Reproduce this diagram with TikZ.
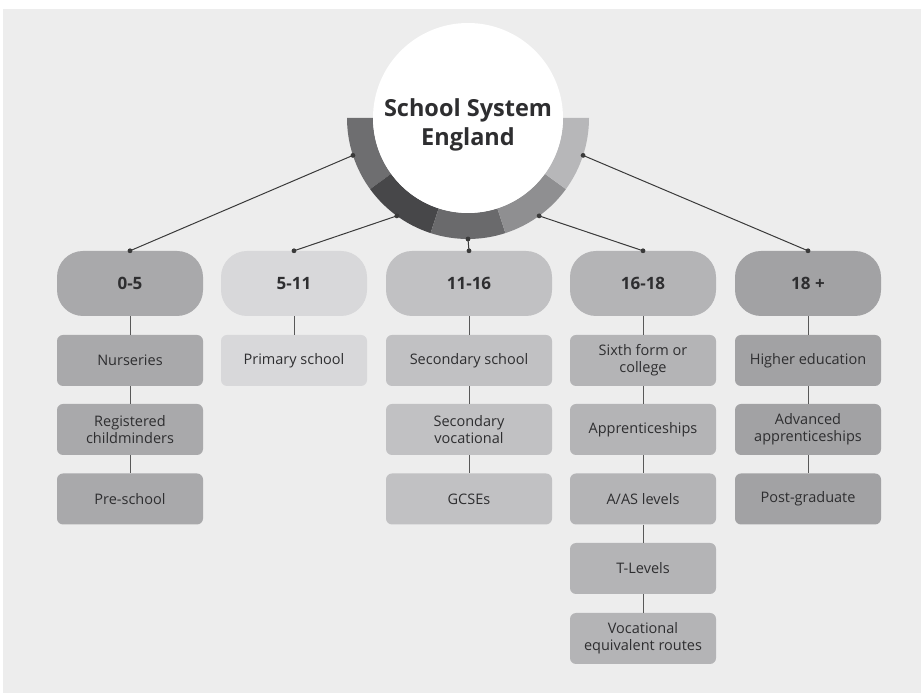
\documentclass[tikz,border=0pt]{standalone}
\usepackage{fontspec}
\setmainfont{Open Sans}
\usetikzlibrary{positioning}
\definecolor{bgc}{HTML}{EDEDED}
\definecolor{segA}{HTML}{6E6E70}
\definecolor{segB}{HTML}{474749}
\definecolor{segC}{HTML}{6A6A6C}
\definecolor{segD}{HTML}{8F8F91}
\definecolor{segE}{HTML}{B7B7B9}
\definecolor{colA}{HTML}{A9A9AB}
\definecolor{colB}{HTML}{D8D8DA}
\definecolor{colC}{HTML}{C1C1C3}
\definecolor{colD}{HTML}{B4B4B6}
\definecolor{colE}{HTML}{A2A2A4}
\definecolor{txt}{HTML}{2E2E30}
\definecolor{lnc}{HTML}{3A3A3A}
\begin{document}
\begin{tikzpicture}[x=1pt,y=1pt,
  header/.style={rounded corners=26pt, minimum width=146pt, minimum height=65pt, inner sep=0pt,
    text=txt, font=\fontsize{17}{20}\selectfont\bfseries},
  item/.style={rounded corners=6pt, minimum width=146pt, minimum height=51pt, inner sep=0pt,
    text=txt, align=center, font=\fontsize{14.5}{17}\selectfont},
  conn/.style={draw=lnc, line width=1pt},
  vline/.style={draw=lnc!85, line width=0.9pt},
  dotc/.style={fill=lnc}
]
\useasboundingbox (0,0) rectangle (921,693);
\fill[white] (0,0) rectangle (921,693);
\fill[bgc] (3,0) rectangle (921,684);

\coordinate (cc) at (468,575);
% ring segments
\foreach \a/\b/\c in {180/216/segA,216/252/segB,252/288/segC,288/324/segD,324/360/segE}{
  \fill[\c] ([shift={(\a:121)}]cc) arc[start angle=\a, end angle=\b, radius=121]
    -- ([shift={(\b:95)}]cc) arc[start angle=\b, end angle=\a, radius=95] -- cycle;
}
\node[circle, fill=white, minimum size=190pt, inner sep=0pt] (hub) at (cc) {};
\node[text=txt, align=center, font=\fontsize{23.5}{29}\selectfont\bfseries] (title) at (468,568) {School System\\England};

% ring anchor points
\coordinate (r1) at ([shift={(198:121)}]cc);
\coordinate (r2) at ([shift={(234:121)}]cc);
\coordinate (r3) at ([shift={(270:121)}]cc);
\coordinate (r4) at ([shift={(306:121)}]cc);
\coordinate (r5) at ([shift={(342:121)}]cc);

% headers
\node[header, fill=colA] (h1) at (130,409.5) {0-5};
\node[header, fill=colB] (h2) at (294,409.5) {5-11};
\node[header, fill=colC, minimum width=166pt] (h3) at (469,409.5) {11-16};
\node[header, fill=colD] (h4) at (643,409.5) {16-18};
\node[header, fill=colE] (h5) at (808,409.5) {18 +};

% column 1
\node[item, fill=colA] (a1) at (130,332.5) {Nurseries};
\node[item, fill=colA] (a2) at (130,263.5) {Registered\\childminders};
\node[item, fill=colA] (a3) at (130,194) {Pre-school};
% column 2
\node[item, fill=colB] (b1) at (294,332.5) {Primary school};
% column 3
\node[item, fill=colC, minimum width=166pt] (c1) at (469,332.5) {Secondary school};
\node[item, fill=colC, minimum width=166pt] (c2) at (469,263.5) {Secondary\\vocational};
\node[item, fill=colC, minimum width=166pt] (c3) at (469,194) {GCSEs};
% column 4
\node[item, fill=colD] (d1) at (643,332.5) {Sixth form or\\college};
\node[item, fill=colD] (d2) at (643,263.5) {Apprenticeships};
\node[item, fill=colD] (d3) at (643,194) {A/AS levels};
\node[item, fill=colD] (d4) at (643,124.5) {T-Levels};
\node[item, fill=colD] (d5) at (643,54.5) {Vocational\\equivalent routes};
% column 5
\node[item, fill=colE] (e1) at (808,332.5) {Higher education};
\node[item, fill=colE] (e2) at (808,263.5) {Advanced\\apprenticeships};
\node[item, fill=colE] (e3) at (808,194) {Post-graduate};

% vertical links
\draw[vline] (h1) -- (a1); \draw[vline] (a1) -- (a2); \draw[vline] (a2) -- (a3);
\draw[vline] (h2) -- (b1);
\draw[vline] (h3) -- (c1); \draw[vline] (c1) -- (c2); \draw[vline] (c2) -- (c3);
\draw[vline] (h4) -- (d1); \draw[vline] (d1) -- (d2); \draw[vline] (d2) -- (d3);
\draw[vline] (d3) -- (d4); \draw[vline] (d4) -- (d5);
\draw[vline] (h5) -- (e1); \draw[vline] (e1) -- (e2); \draw[vline] (e2) -- (e3);

% connectors from hub ring
\foreach \r/\h in {r1/h1,r2/h2,r3/h3,r4/h4,r5/h5}{
  \draw[conn] (\r) -- (\h.north);
  \fill[dotc] (\r) circle[radius=2.4pt];
  \fill[dotc] (\h.north) circle[radius=2.4pt];
}
\end{tikzpicture}
\end{document}
